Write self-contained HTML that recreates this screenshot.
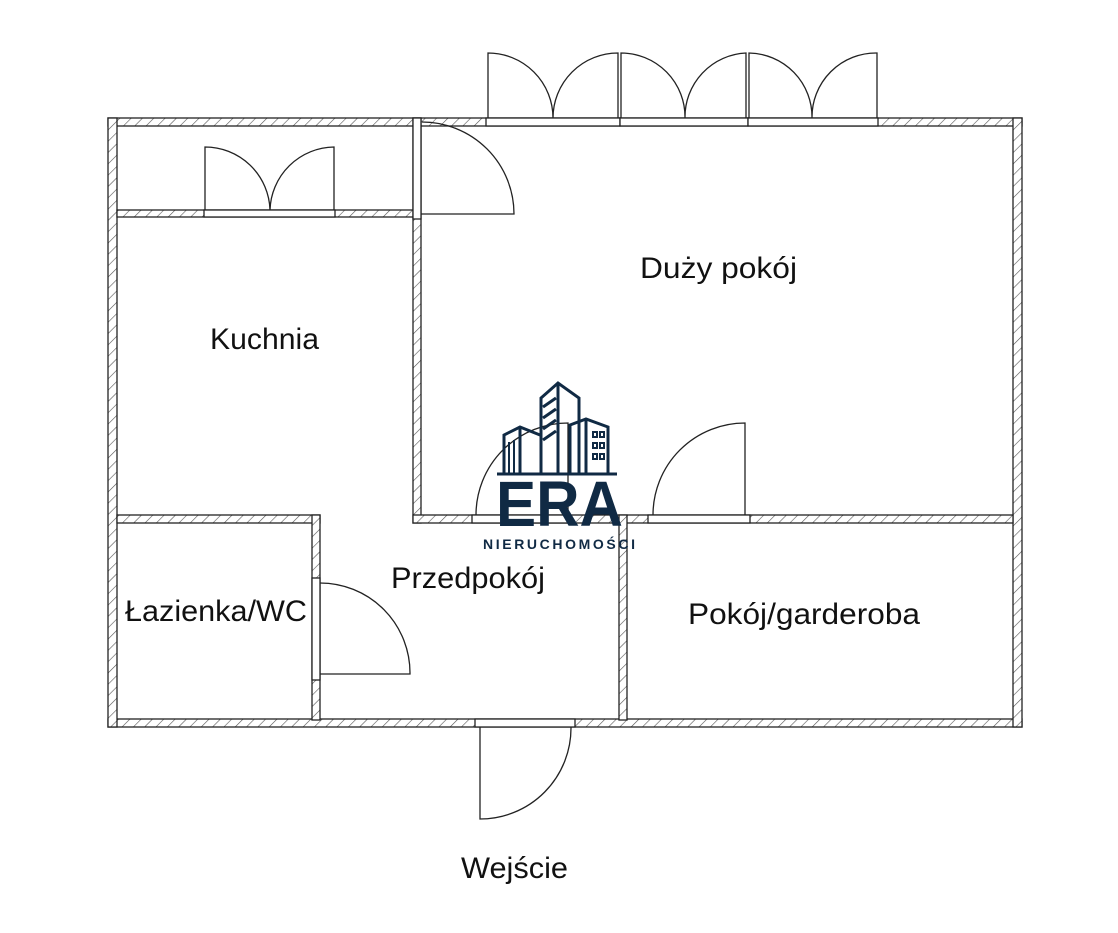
<!DOCTYPE html>
<html><head><meta charset="utf-8"><style>
html,body{margin:0;padding:0;background:#fff}
svg{display:block}
text{font-family:"Liberation Sans","DejaVu Sans",sans-serif}
</style></head><body>
<svg width="1118" height="933" viewBox="0 0 1118 933" xmlns="http://www.w3.org/2000/svg">
<defs>
<pattern id="h" patternUnits="userSpaceOnUse" width="8" height="8" patternTransform="rotate(45)">
<rect width="8" height="8" fill="#fff"/><line x1="0" y1="0" x2="0" y2="8" stroke="#555" stroke-width="1.2"/>
</pattern>
</defs>
<g stroke="#222" stroke-width="1.3" fill="url(#h)">
<rect x="108" y="118" width="914" height="8"/>
<rect x="108" y="719" width="914" height="8"/>
<rect x="108" y="118" width="9" height="609"/>
<rect x="1013" y="118" width="9" height="609"/>
<rect x="117" y="210" width="300" height="7"/>
<rect x="413" y="118" width="8" height="405"/>
<rect x="413" y="515" width="600" height="8"/>
<rect x="117" y="515" width="203" height="8"/>
<rect x="312" y="515" width="8" height="205"/>
<rect x="619" y="515" width="8" height="205"/>
</g>
<g stroke="#222" stroke-width="1.3" fill="#fff">
<rect x="486" y="118" width="134" height="8"/>
<rect x="620" y="118" width="128" height="8"/>
<rect x="748" y="118" width="130" height="8"/>
<rect x="204" y="210" width="131" height="7"/>
<rect x="413" y="118" width="8" height="101"/>
<rect x="472" y="515" width="96" height="8"/>
<rect x="648" y="515" width="102" height="8"/>
<rect x="312" y="578" width="8" height="102"/>
<rect x="475" y="719" width="100" height="8"/>
</g>
<g stroke="#222" stroke-width="1.3" fill="none">
<path d="M488 118 V53 A65 65 0 0 1 553 118 A65 65 0 0 1 618 53 V118"/>
<path d="M621 118 V53 A64 64 0 0 1 685 118 A64 64 0 0 1 746 53 V118"/>
<path d="M749 118 V53 A64 64 0 0 1 812 118 A64 64 0 0 1 877 53 V118"/>
<path d="M205 210 V147 A65 65 0 0 1 270 210 A65 65 0 0 1 334 147 V210"/>
<path d="M421 214 H514 A92 92 0 0 0 422 122"/>
<path d="M476 515 A92 92 0 0 1 568 423 V515"/>
<path d="M653 515 A92 92 0 0 1 745 423 V515"/>
<path d="M320 674 H410 A90 90 0 0 0 320 583"/>
<path d="M480 727 V819 A91 91 0 0 0 571 727"/>
</g>
<g font-size="30" fill="#111">
<text x="640" y="278" textLength="157" lengthAdjust="spacingAndGlyphs">Duży pokój</text>
<text x="210" y="349" textLength="109" lengthAdjust="spacingAndGlyphs">Kuchnia</text>
<text x="391" y="588" textLength="154" lengthAdjust="spacingAndGlyphs">Przedpokój</text>
<text x="125" y="621" textLength="182" lengthAdjust="spacingAndGlyphs">Łazienka/WC</text>
<text x="688" y="624" textLength="232" lengthAdjust="spacingAndGlyphs">Pokój/garderoba</text>
<text x="461" y="878" textLength="107" lengthAdjust="spacingAndGlyphs">Wejście</text>
</g>
<g stroke="#102a44" stroke-width="3" fill="none" stroke-linejoin="miter">
<line x1="497" y1="474" x2="617" y2="474"/>
<path d="M541 474 V398 L558 383 L579 398 V474"/>
<line x1="558" y1="383" x2="558" y2="474"/>
<path d="M543 407 L556 398 M543 418 L556 409 M543 429 L556 420 M543 440 L556 431"/>
<path d="M570 474 V425 L586 419 L608 427 V474"/>
<line x1="586" y1="419" x2="586" y2="474"/>
<path d="M504 474 V435 L520 427 L540 435"/>
<line x1="520" y1="427" x2="520" y2="474"/>
<line x1="509" y1="442" x2="509" y2="474" stroke-width="2"/>
<line x1="514" y1="440" x2="514" y2="474" stroke-width="2"/>
</g>
<g fill="none" stroke="#102a44" stroke-width="2">
<rect x="593" y="432" width="4" height="5"/><rect x="600" y="432" width="4" height="5"/>
<rect x="593" y="443" width="4" height="5"/><rect x="600" y="443" width="4" height="5"/>
<rect x="593" y="454" width="4" height="5"/><rect x="600" y="454" width="4" height="5"/>
</g>
<text x="496" y="526" font-size="64" font-weight="bold" fill="#102a44" textLength="127" lengthAdjust="spacingAndGlyphs">ERA</text>
<text x="483" y="549" font-size="14" font-weight="bold" fill="#102a44" textLength="154" letter-spacing="2">NIERUCHOMOŚCI</text>
</svg>
</body></html>
